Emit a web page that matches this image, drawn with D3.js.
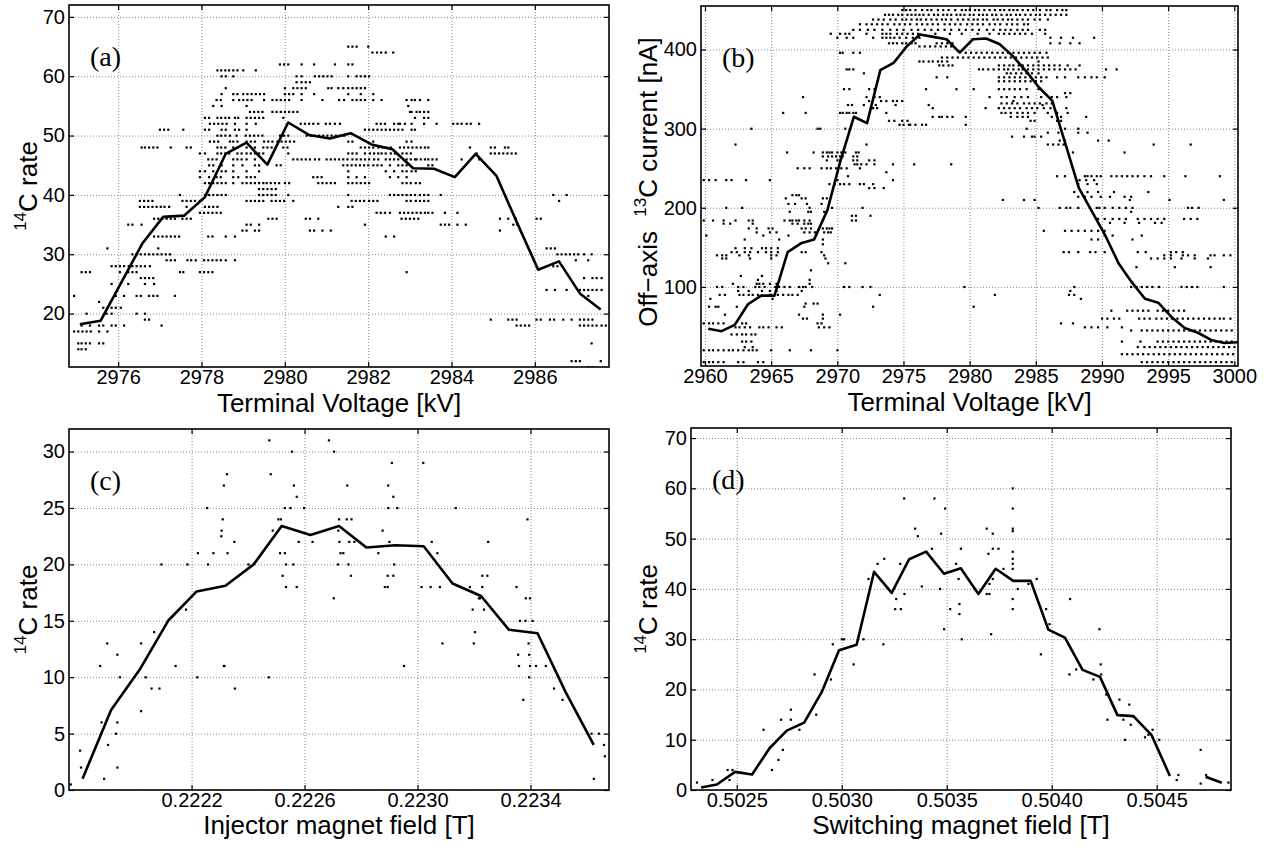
<!DOCTYPE html>
<html>
<head>
<meta charset="utf-8">
<script src="https://cdn.jsdelivr.net/npm/d3@7"></script>
<style>
  body { margin: 0; background: #fff; }
  svg text { font-family: "Liberation Sans", Arial, Helvetica, sans-serif; fill: #000; }
  .plabel { font-family: "Liberation Serif", "Times New Roman", serif; }
  .ytitle { white-space: pre; }
</style>
</head>
<body>
<svg id="fig" width="1267" height="844"></svg>
<script>
// ---------------- (a) 14C rate vs terminal voltage ----------------
const voltageTicksA = [2976, 2978, 2980, 2982, 2984, 2986];
const rateTicksA = [20, 30, 40, 50, 60, 70];
const meanVoltageA = [2975.08, 2975.58, 2976.08, 2976.58, 2977.08, 2977.58, 2978.08, 2978.58, 2979.08, 2979.58,
  2980.08, 2980.58, 2981.08, 2981.58, 2982.08, 2982.58, 2983.08, 2983.58, 2984.08, 2984.58,
  2985.08, 2985.58, 2986.08, 2986.58, 2987.08, 2987.58];
const meanRateA = [18.2, 18.8, 25.3, 31.8, 36.3, 36.5, 39.6, 46.9, 48.8, 45.1,
  52.2, 50.1, 49.5, 50.4, 48.5, 47.7, 44.5, 44.4, 43.0, 46.9,
  43.2, 35.2, 27.4, 28.8, 23.4, 20.7];
// measured counts: [rate, [terminal voltages]]
const countsA = [
  [65, [2981.52, 2981.62, 2981.72, 2982.0]],
  [64, [2982.1, 2982.21, 2982.31, 2982.42, 2982.6]],
  [62, [2979.88, 2979.98, 2980.08, 2980.4, 2980.7, 2981.2, 2981.52, 2981.62]],
  [61, [2978.38, 2978.47, 2978.57, 2978.66, 2978.76, 2978.86, 2979.0, 2979.3]],
  [60, [2978.48, 2978.58, 2978.76, 2980.28, 2980.4, 2980.72, 2980.82, 2980.92, 2981.02, 2981.12, 2981.52, 2981.72, 2981.82, 2981.92, 2982.02]],
  [59, [2980.28, 2980.4, 2980.5, 2980.6]],
  [58, [2978.58, 2980.0, 2980.2, 2980.3, 2980.4, 2980.5, 2981.04, 2981.12, 2981.28, 2981.4, 2981.52, 2981.62, 2981.72, 2981.82, 2981.92]],
  [57, [2978.48, 2978.76, 2978.86, 2979.0, 2979.1, 2979.2, 2979.3, 2979.4, 2979.5, 2980.0, 2980.1, 2980.2, 2980.4, 2980.7, 2981.52, 2981.82, 2982.12]],
  [56, [2978.36, 2978.46, 2978.76, 2978.9, 2979.0, 2979.1, 2979.2, 2979.5, 2979.7, 2979.8, 2979.9, 2980.0, 2980.1, 2980.4, 2980.9, 2981.3, 2981.42, 2981.62, 2981.72, 2981.82, 2981.92, 2982.12, 2982.32, 2982.92, 2983.04, 2983.12, 2983.24, 2983.44]],
  [55, [2978.28, 2978.48, 2979.08, 2982.96]],
  [54, [2979.16, 2979.26, 2979.36, 2979.46, 2979.7, 2979.8, 2979.9, 2980.0, 2980.1, 2980.2, 2980.3, 2983.0, 2983.04, 2983.16, 2983.24, 2983.34, 2983.44]],
  [53, [2978.08, 2978.18, 2978.38, 2978.47, 2978.57, 2978.66, 2978.8, 2978.88, 2979.08, 2979.18, 2979.28, 2979.38, 2979.48, 2979.96, 2983.12, 2983.34, 2983.44]],
  [52, [2978.2, 2978.3, 2978.4, 2978.5, 2978.6, 2978.8, 2979.08, 2979.3, 2980.38, 2980.48, 2980.58, 2980.68, 2980.8, 2980.98, 2981.08, 2981.2, 2981.32, 2982.2, 2982.3, 2982.4, 2982.62, 2982.72, 2982.76, 2982.88, 2983.04, 2983.34, 2983.64, 2984.04, 2984.14, 2984.24, 2984.36, 2984.46, 2984.66]],
  [51, [2977.0, 2977.1, 2977.2, 2977.56, 2978.08, 2978.18, 2978.48, 2978.58, 2978.8, 2978.9, 2979.08, 2981.92, 2982.02, 2982.12, 2982.22, 2982.32, 2982.42, 2982.52, 2982.62, 2982.72, 2982.82, 2983.04, 2983.12]],
  [50, [2978.38, 2978.47, 2978.57, 2978.68, 2978.84, 2979.06, 2979.16, 2979.26, 2979.36, 2979.46, 2979.88, 2979.98, 2980.08, 2980.52, 2980.62, 2980.72, 2980.82, 2980.92, 2981.02, 2981.12, 2981.22, 2981.32, 2981.42]],
  [49, [2978.2, 2978.3, 2978.4, 2978.68, 2978.76, 2978.86, 2979.08, 2979.18, 2979.28, 2979.5, 2979.6, 2979.7, 2979.82, 2979.92, 2980.02, 2980.12, 2980.22, 2981.52, 2981.62, 2982.12, 2982.92, 2983.04]],
  [48, [2976.56, 2976.64, 2976.74, 2976.84, 2976.94, 2977.26, 2977.64, 2977.74, 2978.38, 2978.47, 2978.57, 2978.76, 2978.86, 2979.08, 2979.28, 2979.48, 2979.58, 2979.68, 2979.78, 2979.96, 2980.06, 2981.82, 2981.92, 2982.02, 2982.12, 2982.24, 2982.34, 2982.44, 2982.54, 2982.76, 2982.86, 2982.96, 2983.06, 2983.16, 2983.26, 2983.36, 2983.44, 2984.44, 2984.94, 2985.04, 2985.28, 2985.36]],
  [47, [2977.96, 2978.08, 2978.38, 2978.47, 2978.57, 2978.66, 2978.86, 2978.96, 2979.08, 2979.18, 2979.28, 2979.38, 2979.48, 2980.08, 2981.52, 2981.62, 2981.72, 2981.92, 2982.04, 2982.14, 2982.24, 2982.32, 2982.42, 2982.54, 2982.64, 2982.82, 2982.92, 2983.02, 2984.6, 2984.94, 2985.04, 2985.14, 2985.24, 2985.34, 2985.44, 2985.54]],
  [46, [2978.16, 2978.26, 2978.36, 2978.76, 2978.86, 2978.96, 2979.08, 2979.28, 2980.2, 2980.3, 2980.4, 2980.5, 2980.6, 2980.72, 2980.82, 2981.0, 2981.1, 2981.2, 2981.3, 2981.4, 2981.5, 2981.62, 2981.72, 2981.82, 2981.92, 2982.02, 2982.14, 2982.24, 2982.42, 2982.52, 2982.62, 2982.72, 2982.92, 2983.02, 2983.12, 2983.16, 2983.26, 2983.36, 2983.44, 2983.54, 2983.64, 2984.24, 2984.66]],
  [45, [2978.18, 2978.28, 2978.48, 2978.76, 2978.98, 2979.28, 2979.38, 2979.8, 2979.9, 2981.4, 2981.5, 2981.6, 2981.7, 2981.8, 2981.9, 2982.0, 2982.12, 2982.22, 2982.32, 2982.52, 2982.72, 2982.82, 2982.92, 2983.44, 2983.54]],
  [44, [2977.96, 2978.08, 2978.28, 2978.48, 2978.58, 2978.76, 2979.08, 2979.38, 2981.52, 2982.42, 2982.62, 2982.82, 2982.92, 2983.04, 2983.14]],
  [43, [2977.96, 2978.18, 2978.36, 2978.46, 2978.76, 2978.88, 2979.08, 2979.18, 2979.28, 2980.68, 2980.78, 2980.88, 2981.52, 2981.72, 2981.92, 2982.52, 2982.72, 2982.92]],
  [42, [2978.08, 2978.18, 2978.28, 2978.38, 2978.48, 2978.58, 2978.76, 2978.98, 2979.08, 2979.18, 2979.28, 2979.38, 2979.48, 2979.56, 2979.66, 2979.76, 2979.86, 2980.0, 2980.1, 2980.8, 2980.9, 2981.0, 2981.1, 2981.2, 2981.52, 2981.62, 2981.72, 2981.82, 2981.92, 2982.02, 2982.82, 2982.92, 2983.02, 2983.14, 2983.24]],
  [41, [2979.38, 2979.48, 2979.58, 2979.68, 2979.78]],
  [40, [2977.48, 2978.08, 2978.18, 2978.28, 2978.38, 2978.48, 2978.58, 2979.38, 2979.48, 2979.58, 2979.68, 2979.78, 2980.08, 2981.52, 2982.52, 2982.62, 2982.72, 2982.82, 2982.92, 2983.02, 2983.12, 2983.24, 2983.34, 2983.44, 2983.74, 2986.44, 2986.76]],
  [39, [2976.52, 2976.62, 2976.72, 2976.82, 2977.54, 2977.64, 2977.74, 2977.84, 2977.96, 2979.08, 2979.18, 2979.28, 2979.38, 2979.48, 2979.68, 2979.78, 2979.88, 2979.98, 2980.2, 2981.6, 2981.7, 2981.8, 2981.9, 2982.02, 2982.12, 2982.22, 2982.92, 2983.02, 2983.14, 2983.24, 2983.34, 2983.44, 2986.58]],
  [38, [2976.52, 2976.62, 2976.72, 2976.82, 2976.92, 2977.02, 2977.11, 2977.22, 2977.64, 2978.08, 2978.18, 2978.28, 2978.38, 2981.28, 2981.52, 2981.62]],
  [37, [2977.96, 2978.06, 2978.16, 2978.26, 2978.36, 2978.46, 2982.2, 2982.3, 2982.4, 2982.52, 2982.76, 2982.86, 2982.96, 2983.06, 2983.16, 2983.26, 2983.36, 2983.44, 2983.54, 2983.84, 2984.14]],
  [36, [2976.86, 2976.96, 2977.06, 2977.16, 2977.26, 2977.36, 2977.54, 2977.64, 2977.74, 2979.6, 2979.7, 2979.8, 2980.5, 2980.6, 2980.8, 2982.8, 2982.9, 2983.0, 2983.1, 2983.2, 2985.16, 2985.36, 2985.54, 2986.04, 2986.14]],
  [35, [2976.24, 2976.34, 2976.56, 2979.08, 2979.18, 2979.38, 2981.92, 2983.74, 2983.84, 2983.94, 2984.14, 2984.34, 2985.48, 2985.58]],
  [34, [2978.98, 2979.08, 2979.28, 2979.38, 2980.6, 2980.7, 2980.9, 2981.1, 2985.16]],
  [33, [2976.86, 2976.96, 2977.06, 2977.16, 2977.26, 2977.36, 2977.46, 2978.16, 2978.26, 2978.58, 2978.8, 2982.42, 2982.62]],
  [31, [2975.74, 2976.96, 2986.28, 2986.38, 2986.48]],
  [30, [2976.34, 2976.44, 2976.54, 2976.64, 2976.74, 2976.84, 2976.94, 2977.04, 2977.14, 2977.24, 2986.54, 2986.64, 2986.74, 2986.84, 2986.94, 2987.04, 2987.18, 2987.36]],
  [29, [2977.16, 2977.26, 2977.36, 2977.66, 2977.75, 2977.86, 2978.06, 2978.16, 2978.26, 2978.36, 2978.46, 2978.58, 2978.8, 2986.98, 2987.28]],
  [28, [2975.84, 2975.94, 2976.04, 2976.14, 2976.25, 2976.34, 2976.44, 2976.54, 2976.64, 2976.76, 2986.44, 2986.54]],
  [27, [2975.12, 2975.22, 2975.32, 2976.04, 2976.24, 2976.34, 2976.44, 2977.48, 2977.56, 2977.96, 2978.06, 2978.16, 2978.26, 2982.92]],
  [26, [2976.54, 2976.64, 2976.74, 2976.84, 2987.18, 2987.38, 2987.48, 2987.6]],
  [25, [2975.84, 2976.24, 2976.64, 2976.86]],
  [24, [2986.28, 2986.48, 2986.76, 2987.08, 2987.18, 2987.28, 2987.38, 2987.48, 2987.6]],
  [23, [2974.94, 2975.94, 2976.14, 2976.44, 2976.54, 2976.74, 2976.84, 2976.94, 2977.36, 2987.28]],
  [22, [2975.54]],
  [21, [2975.64, 2975.74, 2975.84, 2975.94, 2976.06]],
  [20, [2975.24, 2975.72, 2975.84, 2976.44, 2976.64]],
  [19, [2976.64, 2976.74, 2984.94, 2985.36, 2985.46, 2985.56, 2986.04, 2986.14, 2986.36, 2986.46, 2986.68, 2986.88, 2987.08, 2987.18, 2987.28, 2987.38]],
  [18, [2975.12, 2975.32, 2975.54, 2975.64, 2975.84, 2975.94, 2976.14, 2977.04, 2985.56, 2985.66, 2985.76, 2985.86, 2987.08, 2987.18, 2987.28, 2987.38, 2987.48, 2987.6, 2987.7]],
  [17, [2974.94, 2975.04, 2975.14, 2975.24, 2975.34, 2975.54, 2975.74]],
  [15, [2975.04, 2975.12, 2975.22, 2975.32, 2975.54, 2975.64, 2987.36]],
  [14, [2975.04, 2975.12, 2975.22]],
  [12, [2986.88, 2986.98, 2987.08, 2987.58]],
  [11, [2987.28, 2987.38]]
];

// ---------------- (b) off-axis 13C current vs terminal voltage ----------------
const voltageTicksB = [2960, 2965, 2970, 2975, 2980, 2985, 2990, 2995, 3000];
const currentTicksB = [100, 200, 300, 400];
const meanVoltageB = [2960.25, 2961.25, 2962.25, 2963.25, 2964.25, 2965.25, 2966.25, 2967.25, 2968.25, 2969.25,
  2970.25, 2971.25, 2972.25, 2973.25, 2974.25, 2975.25, 2976.25, 2977.25, 2978.25, 2979.25,
  2980.25, 2981.25, 2982.25, 2983.25, 2984.25, 2985.25, 2986.25, 2987.25, 2988.25, 2989.25,
  2990.25, 2991.25, 2992.25, 2993.25, 2994.25, 2995.25, 2996.25, 2997.25, 2998.25, 2999.25, 3000.25];
const meanCurrentB = [47, 44, 52, 78, 89, 89, 144, 155, 160, 197,
  260, 315, 307, 374, 383, 404, 419, 416, 413, 396,
  413, 414, 407, 392, 373, 352, 335, 280, 225, 195,
  165, 130, 106, 85, 80, 62, 48, 42, 33, 29, 30];
// measured currents: [current, [terminal voltages]]
const currentsB = [
  [450, [2974.9, 2975.2, 2975.5, 2975.9, 2976.4, 2976.8, 2977.1, 2977.6, 2978.0, 2978.4, 2978.9, 2979.4, 2979.7, 2980.0, 2980.4, 2980.7, 2981.1, 2981.5, 2981.9, 2982.3, 2982.6, 2983.0, 2983.3, 2983.6, 2984.0, 2984.4, 2984.8, 2985.3, 2985.8, 2986.1, 2986.6, 2987.0, 2987.3]],
  [444, [2973.6, 2973.9, 2974.2, 2974.6, 2974.9, 2975.3, 2975.6, 2975.9, 2976.2, 2976.5, 2976.9, 2977.3, 2977.6, 2978.0, 2978.3, 2978.6, 2979.0, 2979.3, 2979.6, 2980.0, 2980.3, 2980.7, 2981.0, 2981.3, 2981.7, 2982.0, 2982.4, 2982.8, 2983.1, 2983.5, 2983.8, 2984.2, 2984.6, 2985.0, 2985.3, 2985.7, 2986.1, 2986.5, 2986.9, 2987.3]],
  [438, [2972.7, 2973.1, 2973.5, 2974.0, 2974.4, 2974.9, 2975.2, 2975.6, 2976.0, 2976.3, 2976.7, 2977.1, 2977.5, 2977.9, 2978.2, 2978.6, 2979.1, 2979.5, 2979.9, 2980.3, 2980.6, 2981.0, 2981.3, 2981.8, 2982.1, 2982.5, 2982.9, 2983.2, 2983.6, 2984.0, 2984.4, 2984.9, 2985.3, 2985.9]],
  [432, [2971.7, 2972.2, 2972.6, 2973.0, 2973.4, 2973.8, 2974.3, 2974.7, 2975.1, 2975.5, 2976.0, 2976.4, 2976.8, 2977.2, 2977.6, 2978.1, 2978.5, 2978.9, 2979.3, 2979.8, 2980.2, 2980.6, 2981.0, 2981.5, 2981.9, 2982.3, 2982.8, 2983.2, 2983.6, 2984.1, 2984.4]],
  [425, [2971.2, 2971.7, 2972.3, 2972.8, 2973.4, 2974.0, 2974.5, 2975.0, 2975.6, 2976.1, 2976.6, 2977.1, 2977.6, 2978.1, 2978.6, 2979.2, 2979.7, 2980.2, 2980.7, 2981.3, 2981.8, 2982.3, 2982.7, 2983.1, 2983.6, 2984.0, 2984.4, 2985.3, 2985.7]],
  [420, [2969.5, 2970.2, 2970.6, 2970.9, 2972.2, 2973.4, 2973.7, 2974.0, 2974.5, 2974.9, 2975.3, 2975.7, 2976.1, 2977.4, 2978.5, 2979.4, 2980.6, 2981.5, 2982.2, 2982.6, 2983.0, 2983.4, 2983.8, 2984.2, 2984.7, 2985.7]],
  [415, [2970.0, 2970.7, 2971.2, 2972.7, 2973.4, 2973.7, 2974.0, 2974.3, 2974.7, 2975.2, 2975.7, 2976.2, 2986.1, 2986.9, 2987.8, 2989.4]],
  [408, [2973.9, 2974.2, 2974.5, 2974.9, 2975.2, 2975.6, 2975.9, 2977.5, 2977.9, 2978.3, 2978.7, 2986.1, 2986.8, 2987.6, 2988.3]],
  [404, [2976.2, 2976.6, 2977.0, 2977.4, 2977.8, 2978.2, 2978.6]],
  [396, [2970.2, 2970.4, 2971.2, 2971.7, 2979.7, 2980.1, 2980.5, 2980.9, 2981.3, 2981.7, 2982.1, 2982.5, 2982.9, 2983.3, 2983.7, 2984.1, 2984.5, 2984.9, 2985.3, 2985.8]],
  [390, [2977.9, 2978.3, 2978.7, 2979.1, 2979.5, 2979.9, 2980.3, 2980.7, 2981.1, 2981.5, 2981.9, 2982.3, 2982.7, 2983.1, 2983.5, 2983.9, 2984.3, 2984.7, 2985.1, 2985.5, 2985.9]],
  [385, [2976.2, 2976.5, 2976.9, 2977.2, 2977.6, 2977.9, 2978.3, 2985.2]],
  [380, [2977.7, 2978.0, 2978.4, 2978.7, 2982.2, 2982.6, 2983.0, 2983.3, 2983.7, 2984.0, 2984.4, 2984.8, 2985.2, 2985.6, 2986.0, 2986.4, 2986.8, 2987.4, 2988.3]],
  [375, [2970.7, 2970.9, 2971.2, 2980.7, 2981.0, 2981.4, 2981.8, 2982.2, 2982.6, 2982.9, 2983.3, 2983.7, 2984.0, 2984.4, 2984.8, 2985.2, 2985.6, 2986.0, 2986.4, 2986.8, 2987.2, 2987.6, 2988.0, 2990.3, 2991.1]],
  [370, [2972.0, 2982.8, 2983.1, 2983.5, 2983.9, 2984.3, 2984.7, 2985.2]],
  [365, [2977.5, 2978.3, 2982.2, 2982.6, 2983.0, 2983.4, 2983.8, 2984.2, 2984.6, 2985.0, 2985.4, 2985.8, 2986.6, 2987.2, 2988.2, 2988.7, 2989.2, 2989.6, 2990.2]],
  [360, [2982.2, 2982.6, 2983.0, 2983.4, 2983.8, 2984.2, 2984.6, 2985.0, 2985.4]],
  [350, [2970.5, 2970.9, 2972.4, 2972.8, 2976.7, 2979.0, 2980.3, 2982.2, 2982.6, 2983.0, 2983.4, 2983.8, 2984.3, 2985.2]],
  [345, [2987.2, 2987.6]],
  [340, [2967.4, 2972.2, 2972.8, 2973.2, 2981.5, 2982.4, 2982.8, 2983.4, 2983.9, 2984.4, 2985.4, 2986.2, 2986.6, 2987.3]],
  [335, [2972.4, 2973.3, 2973.7, 2974.2, 2974.5, 2974.9, 2983.3]],
  [332, [2982.4, 2982.8, 2983.2, 2983.6, 2984.1, 2984.5, 2984.9, 2985.3, 2985.8, 2986.2]],
  [330, [2970.8, 2971.1, 2972.0, 2972.9, 2974.4, 2976.9, 2985.5]],
  [326, [2972.7, 2973.0, 2977.2, 2981.2, 2982.2, 2982.6, 2983.0, 2983.4, 2983.8, 2984.3, 2984.7, 2985.1, 2985.6, 2986.1, 2987.3]],
  [320, [2965.9, 2967.6, 2970.2, 2970.4, 2970.7, 2970.9, 2971.2, 2971.4, 2973.7, 2982.4, 2982.7, 2983.1, 2983.6, 2984.0, 2984.4, 2984.9, 2985.9, 2986.6, 2987.4]],
  [315, [2977.2, 2977.7, 2977.9, 2978.3, 2978.7, 2979.7, 2983.1, 2983.6, 2984.0, 2984.4, 2986.2, 2986.9, 2988.8]],
  [310, [2973.9, 2974.3, 2974.9, 2975.3, 2984.6, 2984.9, 2986.6, 2986.9]],
  [305, [2974.7, 2975.0, 2975.4, 2975.5, 2975.9, 2976.4, 2976.7, 2979.7]],
  [300, [2963.5, 2968.5, 2968.7, 2970.6, 2984.3, 2987.2, 2988.2]],
  [295, [2985.9, 2986.7, 2988.2, 2988.9]],
  [290, [2983.2, 2984.1, 2984.7, 2984.9, 2985.4]],
  [285, [2986.8, 2987.2, 2989.7, 2990.5]],
  [280, [2962.3, 2972.2, 2985.9, 2986.3, 2986.7, 2987.1, 2993.9, 2996.7]],
  [270, [2966.2, 2968.2, 2968.9, 2969.2, 2969.4, 2969.6, 2970.0, 2970.3, 2970.6, 2971.4, 2971.6, 2987.8, 2991.7]],
  [265, [2968.9, 2969.3, 2969.6, 2969.9, 2970.2, 2970.4, 2971.2, 2971.5]],
  [260, [2969.2, 2970.0, 2970.2, 2971.2, 2971.5, 2972.4, 2972.8]],
  [255, [2971.3, 2971.5, 2971.8, 2972.2, 2972.8, 2974.2, 2975.8, 2978.6]],
  [250, [2967.0, 2967.5, 2967.9, 2968.8, 2969.2, 2969.5, 2969.9, 2970.3, 2970.7, 2971.7]],
  [245, [2973.7]],
  [240, [2970.8, 2986.6, 2987.2, 2988.7, 2988.9, 2989.2, 2989.6, 2989.9, 2990.7, 2991.1, 2991.5, 2991.9, 2992.3, 2992.7, 2993.2, 2993.7, 2994.7, 2996.3, 2998.9]],
  [235, [2959.9, 2960.3, 2960.8, 2961.6, 2962.0, 2963.1, 2964.9, 2970.0, 2974.2, 2988.3, 2988.8, 2989.4]],
  [230, [2969.4, 2969.8, 2970.2, 2970.5, 2970.9, 2971.7, 2972.0, 2972.7, 2988.2, 2988.9, 2989.6]],
  [225, [2972.4, 2972.8, 2973.5]],
  [220, [2987.9, 2988.9, 2989.7, 2990.9, 2993.5]],
  [216, [2966.6, 2966.9, 2967.1]],
  [214, [2988.2, 2988.7, 2989.2, 2989.9, 2990.6, 2991.7, 2992.2]],
  [212, [2966.1, 2967.3, 2967.6, 2968.9, 2969.2]],
  [210, [2982.5, 2984.1, 2984.9, 2992.1, 2995.1, 2999.2]],
  [205, [2966.3, 2966.8, 2967.7, 2968.8]],
  [200, [2961.6, 2962.8, 2967.9, 2969.6, 2971.9, 2985.2, 2986.8, 2987.3, 2987.6, 2988.2, 2989.6, 2989.8, 2990.2, 2990.8, 2991.3, 2991.8, 2992.3, 2996.5, 2996.8, 2997.3]],
  [195, [2966.4, 2967.8, 2968.0, 2969.0, 2992.2]],
  [190, [2971.1, 2971.4, 2972.5]],
  [186, [2989.7, 2990.2, 2990.8, 2991.3, 2991.8, 2992.7, 2993.2, 2993.7, 2994.2, 2994.7, 2996.2, 2996.7, 2997.2]],
  [184, [2959.9, 2960.6, 2961.4, 2962.3, 2963.3, 2963.6, 2966.0, 2966.4, 2966.6, 2966.9, 2967.1, 2967.5, 2967.9, 2971.1, 2971.4]],
  [181, [2990.6, 2991.7, 2992.8, 2994.0, 2994.5]],
  [180, [2961.4, 2961.9, 2963.6, 2966.6, 2967.0, 2967.5, 2967.8, 2968.0]],
  [174, [2963.3, 2963.9, 2964.8, 2965.1, 2967.3, 2967.6, 2968.0, 2968.9, 2969.2, 2969.4, 2969.6]],
  [171, [2985.6, 2987.2, 2987.7, 2988.2, 2988.7, 2989.2, 2989.7, 2990.2]],
  [169, [2963.9, 2964.9, 2965.4, 2967.5, 2967.9, 2968.3, 2969.0, 2969.3, 2969.5]],
  [165, [2960.1, 2964.4, 2966.3, 2990.2, 2990.8, 2993.0]],
  [160, [2963.0, 2965.6, 2968.9, 2989.2, 2989.7, 2992.3]],
  [154, [2968.9]],
  [149, [2962.3, 2963.0, 2963.5, 2964.3, 2964.6, 2965.0, 2965.5]],
  [144, [2962.0, 2962.4, 2963.0, 2963.4, 2964.0, 2964.6, 2965.0, 2965.5, 2967.3, 2967.6, 2968.8, 2987.1, 2987.5, 2988.2, 2989.1, 2989.5, 2990.2, 2992.7, 2993.3, 2995.2, 2995.6, 2996.1]],
  [140, [2960.9, 2961.3, 2961.6, 2962.6, 2963.3, 2965.0, 2965.4, 2969.0, 2994.7, 2995.2, 2996.1, 2996.5, 2997.0, 2998.2, 2998.5, 2999.2, 2999.7]],
  [136, [2961.3, 2961.6, 2963.4, 2965.0, 2969.1, 2993.7, 2994.2, 2994.7, 2995.2, 2996.0, 2997.0, 2998.0]],
  [130, [2969.3, 2970.6]],
  [125, [2992.6, 2995.5, 2998.2]],
  [121, [2968.0]],
  [114, [2962.7, 2964.3]],
  [109, [2964.0, 2967.9]],
  [104, [2962.1, 2963.9, 2964.1, 2964.4, 2964.9, 2965.4, 2967.9]],
  [100, [2960.9, 2961.3, 2962.5, 2962.9, 2963.8, 2964.1, 2964.5, 2965.3, 2965.6, 2966.0, 2966.4, 2967.1, 2967.4, 2967.6, 2968.1, 2970.5, 2970.9, 2971.9, 2972.5, 2979.6, 2987.9, 2992.2, 2992.6, 2993.0, 2993.4, 2993.8, 2994.3, 2996.0, 2996.4, 2996.8, 2997.2, 2999.2]],
  [95, [2962.5, 2963.3, 2964.3, 2964.9, 2965.4, 2967.3, 2987.6]],
  [90, [2961.1, 2961.5, 2962.6, 2962.9, 2963.3, 2963.6, 2964.0, 2964.9, 2965.5, 2965.9, 2966.3, 2966.6, 2967.0, 2973.2, 2981.9, 2987.5, 2987.9]],
  [85, [2960.4, 2965.1, 2988.4]],
  [79, [2967.6, 2968.2, 2968.5]],
  [75, [2960.3, 2960.8, 2961.0, 2962.4, 2967.5, 2972.7, 2980.3]],
  [70, [2990.7, 2991.9, 2992.3, 2992.7, 2993.1, 2993.5, 2994.2, 2994.6, 2995.0, 2995.4, 2995.8, 2996.2]],
  [65, [2961.5, 2967.1, 2968.9, 2970.2]],
  [60, [2967.4, 2967.7, 2968.9, 2990.0, 2990.4, 2990.9, 2991.3, 2992.8, 2993.2, 2993.6, 2994.1, 2994.5, 2994.9, 2995.3, 2995.7, 2996.1, 2996.5, 2996.9, 2997.3, 2997.7, 2998.1, 2998.5, 2998.9, 2999.2, 2999.7]],
  [54, [2959.9, 2960.3, 2960.6, 2961.0, 2961.4, 2962.8, 2963.1, 2968.5, 2968.8, 2986.9, 2987.8]],
  [49, [2962.3, 2962.6, 2963.0, 2963.4, 2964.1, 2964.4, 2964.8, 2965.4, 2965.8, 2968.6, 2969.0, 2969.4, 2988.7, 2989.2, 2989.7, 2990.4, 2991.5]],
  [45, [2992.2, 2993.0, 2993.4, 2993.8, 2994.2, 2994.6, 2995.0, 2995.4, 2995.8, 2996.2, 2996.6, 2997.0, 2997.4, 2997.8, 2998.2, 2998.6, 2999.0, 2999.4, 2999.8]],
  [40, [2962.0, 2962.4, 2962.8, 2963.1, 2963.5, 2963.8]],
  [31, [2962.8, 2963.1, 2963.5, 2991.5, 2992.9, 2994.2, 2994.6, 2995.0, 2995.4, 2995.8, 2996.2, 2996.6, 2997.0, 2997.4, 2997.8, 2998.2, 2998.6, 2999.0, 2999.4, 2999.8]],
  [24, [2963.0, 2963.6, 2992.7, 2993.2, 2993.6, 2994.0, 2994.4, 2994.8, 2995.2, 2995.6, 2996.0, 2996.4, 2996.8, 2997.2, 2997.6, 2998.0, 2998.4, 2998.8, 2999.2, 2999.6, 3000.0]],
  [20, [2959.9, 2960.3, 2960.6, 2961.0, 2961.4, 2961.8, 2962.1, 2962.5, 2962.9, 2963.3, 2963.6, 2963.9, 2965.0, 2966.4, 2968.0, 2970.0]],
  [15, [2991.5, 2991.9, 2992.3, 2992.7, 2993.1, 2993.5, 2993.9, 2994.3, 2994.7, 2995.1, 2995.5, 2995.9, 2996.3, 2996.7, 2997.1, 2997.5, 2997.9, 2998.3, 2998.7, 2999.1, 2999.5, 2999.9]],
  [5, [2959.9, 2960.3, 2960.6, 2961.0, 2961.4, 2962.5, 2962.9, 2964.0, 2964.4, 2993.0, 2993.4, 2993.8, 2994.2, 2994.6, 2995.0, 2995.4, 2995.8, 2996.2, 2996.6, 2997.0, 2997.4, 2997.8, 2998.2, 2998.6, 2999.0, 2999.4, 2999.8]]
];

// ---------------- (c) 14C rate vs injector magnet field ----------------
const fieldTicksC = [0.2222, 0.2226, 0.2230, 0.2234];
const rateTicksC = [0, 5, 10, 15, 20, 25, 30];
const meanFieldC = [0.221814, 0.221915, 0.222017, 0.222117, 0.222218, 0.22232, 0.22242, 0.222519, 0.222621, 0.222722,
  0.222819, 0.222922, 0.223022, 0.223124, 0.223225, 0.223324, 0.223425, 0.223524, 0.223624];
const meanRateC = [1.0, 7.1, 10.7, 15.0, 17.6, 18.1, 20.0, 23.4, 22.6, 23.4,
  21.5, 21.7, 21.6, 18.3, 17.2, 14.2, 13.9, 8.7, 4.0];
const samplesC = [
  [0.221772, 0.5], [0.221805, 3.5], [0.221808, 2], [0.221876, 11], [0.221881, 6], [0.22189, 1], [0.221901, 13], [0.221904, 4],
  [0.221932, 5], [0.221937, 12], [0.221937, 6], [0.221937, 2], [0.221946, 10], [0.222021, 13], [0.222021, 7], [0.222037, 10],
  [0.222058, 9], [0.222067, 14], [0.222086, 9], [0.222093, 20], [0.222143, 11], [0.22218, 16], [0.222185, 20], [0.22222, 10],
  [0.222222, 21], [0.222255, 25], [0.222258, 20], [0.222277, 21], [0.222305, 22.5], [0.222306, 23], [0.22231, 24], [0.222314, 27],
  [0.222314, 11], [0.222316, 11], [0.222325, 28], [0.222327, 21], [0.222351, 22], [0.222353, 9], [0.222401, 20], [0.222473, 10],
  [0.222475, 31], [0.22248, 28], [0.222487, 23], [0.222507, 24], [0.222516, 24], [0.222513, 21], [0.22253, 21], [0.222522, 19],
  [0.222534, 18], [0.22253, 25], [0.222534, 20], [0.22255, 25], [0.222555, 30], [0.222562, 27], [0.222572, 26], [0.22256, 20],
  [0.222572, 18], [0.222579, 22], [0.222598, 25], [0.222628, 22], [0.222686, 31], [0.222704, 30], [0.222703, 17], [0.222718, 20],
  [0.222719, 23], [0.222722, 24], [0.222723, 22], [0.222727, 21], [0.222737, 21], [0.222751, 27], [0.222749, 24], [0.222766, 24],
  [0.222755, 20], [0.222758, 22], [0.222764, 19], [0.222776, 22], [0.222794, 22], [0.222861, 21], [0.222876, 23], [0.222884, 18],
  [0.222894, 18], [0.222894, 19], [0.222914, 19], [0.222896, 27], [0.222896, 25], [0.2229, 22], [0.222909, 29], [0.222914, 26],
  [0.222917, 20], [0.222928, 25], [0.222952, 11],
  [0.22302, 29], [0.223014, 18], [0.223046, 18], [0.223079, 18], [0.22305, 22], [0.22307, 21], [0.223088, 13], [0.223135, 25],
  [0.223185, 18], [0.223195, 16], [0.223235, 16], [0.223203, 14], [0.223199, 13], [0.223217, 17], [0.223221, 17], [0.223229, 19],
  [0.223247, 19], [0.223229, 18], [0.22325, 22], [0.22335, 18], [0.223356, 12], [0.223359, 11], [0.223362, 15], [0.223382, 15],
  [0.223407, 15], [0.223374, 8], [0.223389, 24], [0.223383, 17], [0.223398, 17], [0.223393, 13], [0.223395, 12], [0.223398, 11],
  [0.223395, 10], [0.223419, 11], [0.223454, 11], [0.223483, 9], [0.223513, 8], [0.223616, 5], [0.223642, 5], [0.223624, 1],
  [0.22366, 4], [0.223663, 3]
];

// ---------------- (d) 14C rate vs switching magnet field ----------------
const fieldTicksD = [0.5025, 0.5030, 0.5035, 0.5040, 0.5045];
const rateTicksD = [0, 10, 20, 30, 40, 50, 60, 70];
const meanFieldD = [0.50233, 0.502405, 0.502492, 0.502573, 0.502656, 0.502738, 0.502821, 0.502905, 0.502987, 0.503071,
  0.503154, 0.503238, 0.503321, 0.503402, 0.503487, 0.503567, 0.503651, 0.503733, 0.503817, 0.5039,
  0.503984, 0.504063, 0.504147, 0.50423, 0.504313, 0.504389, 0.504476, 0.504563, 0.504646, 0.504733, 0.50481];
const meanRateD = [0.5, 1.1, 3.6, 3.1, 8.3, 11.8, 13.4, 19.5, 27.8, 28.9,
  43.4, 39.2, 45.9, 47.4, 43.0, 44.1, 39.0, 44.0, 41.6, 41.6,
  31.9, 30.3, 23.9, 22.5, 14.9, 14.7, 10.9, 2.8, null, 2.65, 1.45];
const samplesD = [
  [0.50231, 1.5], [0.502384, 2], [0.502456, 4], [0.502479, 4], [0.502465, 2], [0.502627, 12], [0.502667, 4], [0.502698, 6],
  [0.502711, 14], [0.502719, 8], [0.502757, 16], [0.502757, 14], [0.502798, 12], [0.50287, 23], [0.502878, 15], [0.502948, 22],
  [0.502957, 29], [0.503, 30], [0.503011, 30], [0.503056, 25], [0.503103, 30], [0.503127, 42], [0.50317, 45], [0.503198, 29],
  [0.503202, 46], [0.503254, 36], [0.503259, 38], [0.503278, 45], [0.503281, 36], [0.503297, 58], [0.503298, 39], [0.503349, 52],
  [0.503362, 50.5], [0.503381, 40.5], [0.503429, 48], [0.503441, 58], [0.503468, 40], [0.503473, 51], [0.503492, 56], [0.503487, 32],
  [0.503516, 36], [0.503544, 45], [0.503556, 42], [0.50356, 37], [0.50356, 35], [0.503567, 48], [0.503571, 30], [0.50369, 52],
  [0.503698, 47], [0.50369, 39], [0.503703, 39], [0.503703, 41], [0.503711, 31], [0.503719, 51], [0.503719, 48], [0.503719, 42],
  [0.503746, 48], [0.50377, 44],
  [0.503814, 60], [0.503814, 56], [0.503814, 52], [0.503814, 51.5], [0.503814, 47.4], [0.503814, 46], [0.503814, 45], [0.503814, 44],
  [0.503814, 38], [0.503814, 36],
  [0.503838, 40], [0.503889, 41], [0.503928, 42], [0.503973, 36], [0.503989, 33], [0.503948, 27], [0.504087, 38], [0.504084, 23],
  [0.504116, 24], [0.504198, 22], [0.504227, 32], [0.504233, 25], [0.504235, 23], [0.504259, 19], [0.504265, 14], [0.504322, 18],
  [0.504341, 14], [0.504349, 10], [0.504369, 17], [0.504376, 13], [0.504389, 14.6], [0.504444, 10.5], [0.50446, 11], [0.50448, 12],
  [0.504512, 10], [0.504595, 2], [0.504603, 3], [0.504709, 8], [0.504709, 1.3], [0.504735, 3], [0.504841, 1.5]
];

// ---------------- drawing ----------------
const svg = d3.select("#fig");
svg.append("rect").attr("width", 1267).attr("height", 844).attr("fill", "#fff");

const unpackRows = rows => rows.flatMap(([v, xs]) => xs.map(x => [x, v]));
const zipLine = (xs, ys) => xs.map((x, i) => [x, ys[i]]);

function drawPanel(p, idx) {
  const { box } = p;
  const x = d3.scaleLinear().domain(p.xDomain).range([box.left, box.right]);
  const y = d3.scaleLinear().domain(p.yDomain).range([box.bottom, box.top]);
  const w = box.right - box.left, h = box.bottom - box.top;
  const g = svg.append("g");

  const clipId = "clip" + idx;
  g.append("clipPath").attr("id", clipId)
    .append("rect").attr("x", box.left).attr("y", box.top).attr("width", w).attr("height", h);

  // dotted grid
  const gridStyle = s => {
    s.select(".domain").remove();
    s.selectAll(".tick line").attr("stroke", "#8a8a8a").attr("stroke-width", 1).attr("stroke-dasharray", "1,2");
  };
  g.append("g").attr("transform", `translate(0,${box.bottom})`)
    .call(d3.axisBottom(x).tickValues(p.xTicks).tickSize(-h).tickFormat(""))
    .call(gridStyle);
  g.append("g").attr("transform", `translate(${box.left},0)`)
    .call(d3.axisLeft(y).tickValues(p.yTicks).tickSize(-w).tickFormat(""))
    .call(gridStyle);

  // measured samples
  const data = g.append("g").attr("clip-path", `url(#${clipId})`);
  data.selectAll("rect.pt").data(p.points).join("rect")
    .attr("class", "pt")
    .attr("x", d => x(d[0]) - 1).attr("y", d => y(d[1]) - 1)
    .attr("width", 2.2).attr("height", 2.2).attr("fill", "#000");

  // averaged curve
  const line = d3.line().defined(d => d[1] != null).x(d => x(d[0])).y(d => y(d[1]));
  data.append("path").datum(p.curve)
    .attr("d", line).attr("fill", "none").attr("stroke", "#000")
    .attr("stroke-width", 2.6).attr("stroke-linejoin", "round");

  // axes with inward ticks on all four sides
  const axisStyle = s => {
    s.select(".domain").remove();
    s.selectAll(".tick line").attr("stroke", "#000").attr("stroke-width", 1.2);
    s.selectAll(".tick text").attr("font-size", 20).attr("fill", "#000");
  };
  const fmtX = d3.format(p.xFormat), fmtY = d3.format(p.yFormat);
  g.append("g").attr("transform", `translate(0,${box.bottom})`)
    .call(d3.axisBottom(x).tickValues(p.xTicks).tickSize(-5).tickPadding(p.xTickPad).tickFormat(fmtX))
    .call(axisStyle);
  g.append("g").attr("transform", `translate(0,${box.top})`)
    .call(d3.axisTop(x).tickValues(p.xTicks).tickSize(-5).tickFormat(""))
    .call(axisStyle);
  g.append("g").attr("transform", `translate(${box.left},0)`)
    .call(d3.axisLeft(y).tickValues(p.yTicks).tickSize(-5).tickPadding(4).tickFormat(fmtY))
    .call(axisStyle);
  g.append("g").attr("transform", `translate(${box.right},0)`)
    .call(d3.axisRight(y).tickValues(p.yTicks).tickSize(-5).tickFormat(""))
    .call(axisStyle);

  g.append("rect").attr("x", box.left).attr("y", box.top).attr("width", w).attr("height", h)
    .attr("fill", "none").attr("stroke", "#000").attr("stroke-width", 1.6);

  // axis titles
  g.append("text")
    .attr("x", (box.left + box.right) / 2).attr("y", box.bottom + p.xTitleGap)
    .attr("text-anchor", "middle").attr("font-size", 26)
    .text(p.xTitle);

  const yt = g.append("text").attr("class", "ytitle")
    .attr("transform", `translate(${box.left - p.yTitleGap},${(box.top + box.bottom) / 2 - p.yTitleLift}) rotate(-90)`)
    .attr("text-anchor", "middle").attr("font-size", 26);
  if (p.yPrefix) yt.append("tspan").text(p.yPrefix);
  yt.append("tspan").attr("font-size", 17).attr("dy", -11).text(p.yIsotope);
  yt.append("tspan").attr("dy", 11).text(p.ySuffix);

  // panel tag
  g.append("text").attr("class", "plabel")
    .attr("x", box.left + 21).attr("y", box.top + 61)
    .attr("font-size", 28)
    .text(p.tag);
}

const panels = [
  {
    tag: "(a)", box: { left: 69, right: 609, top: 5, bottom: 367 },
    xDomain: [2974.82, 2987.78], yDomain: [11, 72],
    xTicks: voltageTicksA, yTicks: rateTicksA, xFormat: "d", yFormat: "d",
    points: unpackRows(countsA), curve: zipLine(meanVoltageA, meanRateA),
    xTitle: "Terminal Voltage [kV]", xTitleGap: 45, xTickPad: 3,
    yPrefix: "", yIsotope: "14", ySuffix: "C rate", yTitleGap: 32, yTitleLift: 0
  },
  {
    tag: "(b)", box: { left: 701, right: 1238, top: 6, bottom: 366 },
    xDomain: [2959.7, 3000.28], yDomain: [0, 455],
    xTicks: voltageTicksB, yTicks: currentTicksB, xFormat: "d", yFormat: "d",
    points: unpackRows(currentsB), curve: zipLine(meanVoltageB, meanCurrentB),
    xTitle: "Terminal Voltage [kV]", xTitleGap: 45, xTickPad: 3,
    yPrefix: "Off\u2212axis  ", yIsotope: "13", ySuffix: "C current [nA]", yTitleGap: 44, yTitleLift: 4
  },
  {
    tag: "(c)", box: { left: 69, right: 609, top: 429, bottom: 790 },
    xDomain: [0.221766, 0.223678], yDomain: [0, 32],
    xTicks: fieldTicksC, yTicks: rateTicksC, xFormat: ".4f", yFormat: "d",
    points: samplesC, curve: zipLine(meanFieldC, meanRateC),
    xTitle: "Injector magnet field [T]", xTitleGap: 44, xTickPad: 3,
    yPrefix: "", yIsotope: "14", ySuffix: "C rate", yTitleGap: 32, yTitleLift: 0
  },
  {
    tag: "(d)", box: { left: 691, right: 1231, top: 428, bottom: 790 },
    xDomain: [0.502282, 0.504854], yDomain: [0, 72],
    xTicks: fieldTicksD, yTicks: rateTicksD, xFormat: ".4f", yFormat: "d",
    points: samplesD, curve: zipLine(meanFieldD, meanRateD),
    xTitle: "Switching magnet field [T]", xTitleGap: 44, xTickPad: 3,
    yPrefix: "", yIsotope: "14", ySuffix: "C rate", yTitleGap: 34, yTitleLift: 0
  }
];

panels.forEach(drawPanel);
</script>
</body>
</html>
